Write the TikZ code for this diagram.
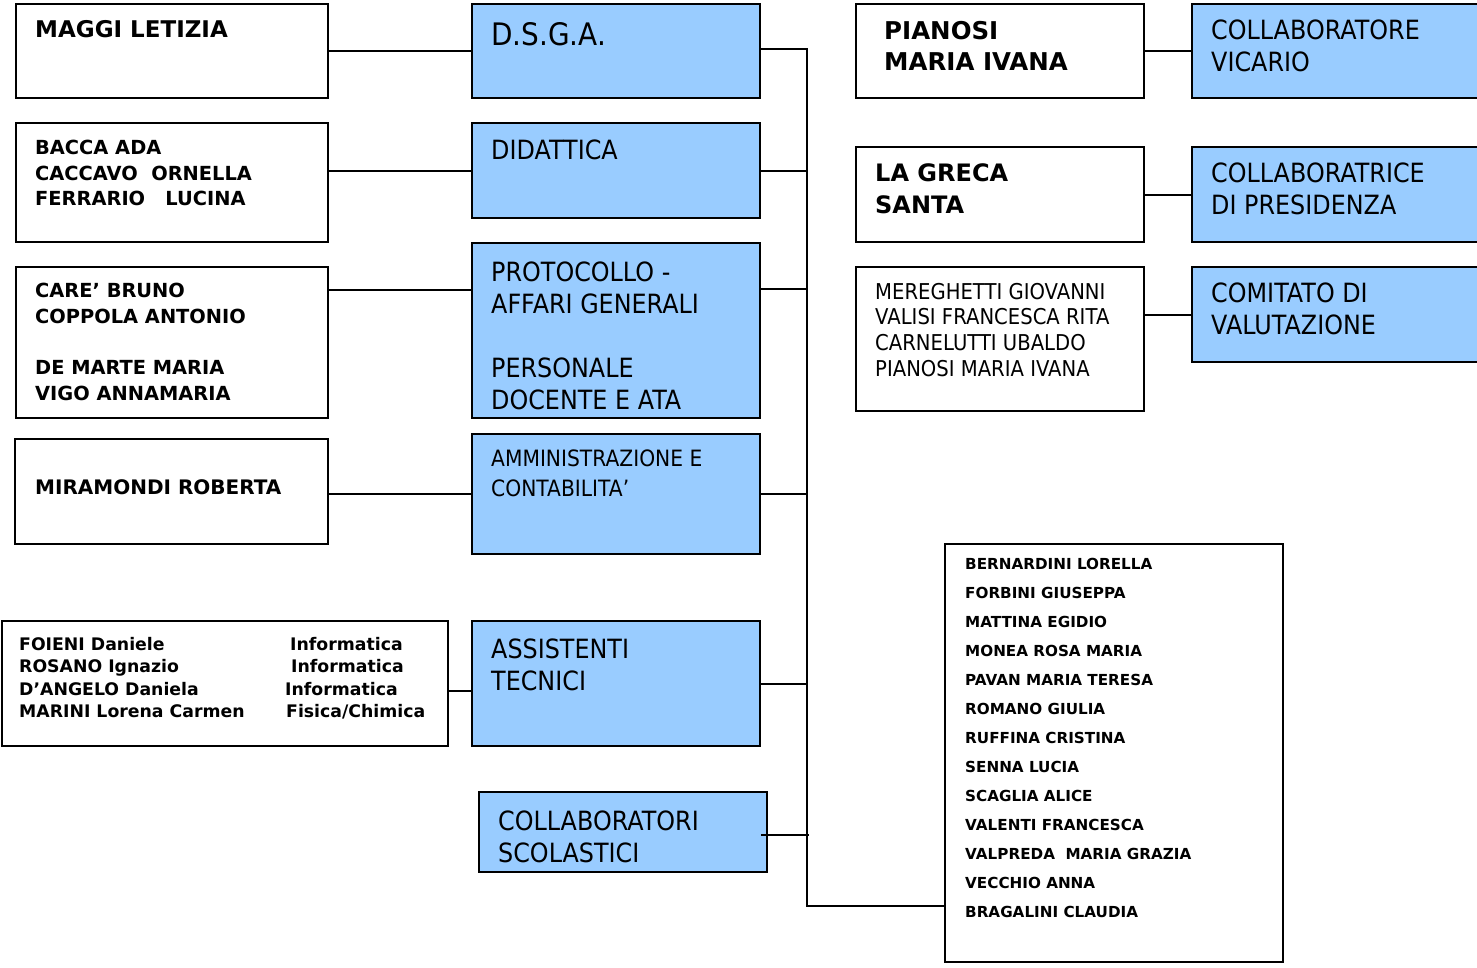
\documentclass[tikz,border=0pt]{standalone}
\usepackage{fontspec}
\setmainfont{DejaVu Sans}
\newfontfamily\narrowsans[FakeStretch=0.9]{DejaVu Sans}
\definecolor{boxblue}{RGB}{153,204,255}

\begin{document}
\begin{tikzpicture}[x=1pt,y=-1pt,
		box/.style={draw,line width=2pt,anchor=north west,inner sep=0pt},
		bluebox/.style={box,fill=boxblue},
		txt/.style={anchor=north west,inner sep=0pt,align=left},
		heading/.style={txt,font=\narrowsans\fontsize{26.5}{32}\selectfont},
		names/.style={txt,font=\bfseries\fontsize{19.4}{25.6}\selectfont},
		bignames/.style={txt,font=\bfseries\fontsize{24.5}{31.5}\selectfont},
		link/.style={line width=2pt}]
	\useasboundingbox (0,0) rectangle (1477,967);

	% boxes
	\node[box,minimum width=312,minimum height=94] (maggi) at (15,3) {};
	\node[bluebox,minimum width=288,minimum height=94] (dsga) at (471,3) {};
	\node[box,minimum width=312,minimum height=119] (bacca) at (15,122) {};
	\node[bluebox,minimum width=288,minimum height=95] (didattica) at (471,122) {};
	\node[box,minimum width=312,minimum height=151] (care) at (15,266) {};
	\node[bluebox,minimum width=288,minimum height=175] (protocollo) at (471,242) {};
	\node[box,minimum width=313,minimum height=105] (miramondi) at (14,438) {};
	\node[bluebox,minimum width=288,minimum height=120] (amministrazione) at (471,433) {};
	\node[box,minimum width=446,minimum height=125] (foieni) at (1,620) {};
	\node[bluebox,minimum width=288,minimum height=125] (assistenti) at (471,620) {};
	\node[bluebox,minimum width=288,minimum height=80] (collscol) at (478,791) {};
	\node[box,minimum width=288,minimum height=94] (pianosi) at (855,3) {};
	\node[bluebox,minimum width=292,minimum height=94] (vicario) at (1191,3) {};
	\node[box,minimum width=288,minimum height=95] (lagreca) at (855,146) {};
	\node[bluebox,minimum width=292,minimum height=95] (presidenza) at (1191,146) {};
	\node[box,minimum width=288,minimum height=144] (mereghetti) at (855,266) {};
	\node[bluebox,minimum width=292,minimum height=95] (comitato) at (1191,266) {};
	\node[box,minimum width=338,minimum height=418] (bernardini) at (944,543) {};

	% texts
	\node[txt,font=\bfseries\fontsize{23}{30}\selectfont] (maggi text) at ([shift={(20,17)}]maggi.north west) {MAGGI LETIZIA};
	\node[heading,font=\narrowsans\fontsize{31}{36}\selectfont] (dsga text) at ([shift={(20,19)}]dsga.north west) {D.S.G.A.};
	\node[names] (bacca text) at ([shift={(20,18)}]bacca.north west) {BACCA ADA\\CACCAVO\ \ ORNELLA\\FERRARIO\ \ \ LUCINA};
	\node[heading] (didattica text) at ([shift={(20,18)}]didattica.north west) {DIDATTICA};
	\node[names] (care text) at ([shift={(20,17)}]care.north west) {CARE’ BRUNO\\COPPOLA ANTONIO\\[25.6pt]DE MARTE MARIA\\VIGO ANNAMARIA};
	\node[heading] (protocollo text) at ([shift={(20,20)}]protocollo.north west) {PROTOCOLLO -\\AFFARI GENERALI\\[32pt]PERSONALE\\DOCENTE E ATA};
	\node[names,font=\bfseries\fontsize{20}{26}\selectfont] (miramondi text) at ([shift={(21,41)}]miramondi.north west) {MIRAMONDI ROBERTA};
	\node[heading,font=\narrowsans\fontsize{22.5}{29.5}\selectfont] (amministrazione text) at ([shift={(20,17)}]amministrazione.north west) {AMMINISTRAZIONE E\\CONTABILITA’};
	\node[txt,font=\bfseries\fontsize{17.3}{22.4}\selectfont] (foieni text) at ([shift={(18,17)}]foieni.north west) {FOIENI Daniele\\ROSANO Ignazio\\D’ANGELO Daniela\\MARINI Lorena Carmen};
	\node[txt,font=\bfseries\fontsize{17.3}{22.4}\selectfont] (subjects text) at ([shift={(284,17)}]foieni.north west) {\hspace*{5pt}Informatica\\\hspace*{6pt}Informatica\\Informatica\\\hspace*{1pt}Fisica/Chimica};
	\node[heading] (assistenti text) at ([shift={(20,19)}]assistenti.north west) {ASSISTENTI\\TECNICI};
	\node[heading] (collscol text) at ([shift={(20,20)}]collscol.north west) {COLLABORATORI\\SCOLASTICI};
	\node[bignames] (pianosi text) at ([shift={(29,18)}]pianosi.north west) {PIANOSI\\MARIA IVANA};
	\node[heading] (vicario text) at ([shift={(20,17)}]vicario.north west) {COLLABORATORE\\VICARIO};
	\node[bignames,font=\bfseries\fontsize{24}{32}\selectfont] (lagreca text) at ([shift={(20,17)}]lagreca.north west) {LA GRECA\\SANTA};
	\node[heading] (presidenza text) at ([shift={(20,17)}]presidenza.north west) {COLLABORATRICE\\DI PRESIDENZA};
	\node[txt,font=\narrowsans\fontsize{21.8}{25.6}\selectfont] (mereghetti text) at ([shift={(20,17)}]mereghetti.north west) {MEREGHETTI GIOVANNI\\VALISI FRANCESCA RITA\\CARNELUTTI UBALDO\\PIANOSI MARIA IVANA};
	\node[heading] (comitato text) at ([shift={(20,17)}]comitato.north west) {COMITATO DI\\VALUTAZIONE};
	\foreach \n [count=\i] in {BERNARDINI LORELLA,FORBINI GIUSEPPA,MATTINA EGIDIO,MONEA ROSA MARIA,PAVAN MARIA TERESA,ROMANO GIULIA,RUFFINA CRISTINA,SENNA LUCIA,SCAGLIA ALICE,VALENTI FRANCESCA,VALPREDA\ \ MARIA GRAZIA,VECCHIO ANNA,BRAGALINI CLAUDIA}{
			\node[txt,font=\bfseries\fontsize{15.2}{29}\selectfont] (member\i) at ([shift={(21,15+29*\i-29)}]bernardini.north west) {\n};
		}

	% connectors
	\coordinate (bus) at (807,49);
	\draw[link] (maggi.east) -- (maggi.east -| dsga.west);
	\draw[link] (didattica.west -| bacca.east) -- (didattica.west);
	\draw[link] (care.east |- 0,290) -- (protocollo.west |- 0,290);
	\draw[link] (amministrazione.west -| miramondi.east) -- (amministrazione.west);
	\draw[link] (foieni.east |- 0,691) -- (assistenti.west |- 0,691);
	\draw[link] (dsga.east |- bus) -- (bus) -- (bus |- 0,906) -- (bernardini.west |- 0,906);
	\draw[link] (didattica.east) -- (didattica.east -| bus);
	\draw[link] (protocollo.east |- 0,289) -- (bus |- 0,289);
	\draw[link] (amministrazione.east) -- (amministrazione.east -| bus);
	\draw[link] (assistenti.east) -- (assistenti.east -| bus);
	\draw[link] (collscol.east) ++(-7,3) -- ++(48,0);
	\draw[link] (pianosi.east) -- (vicario.west);
	\draw[link] (lagreca.east) -- (lagreca.east -| presidenza.west);
	\draw[link] (mereghetti.east |- comitato.west) -- (comitato.west);
\end{tikzpicture}
\end{document}
